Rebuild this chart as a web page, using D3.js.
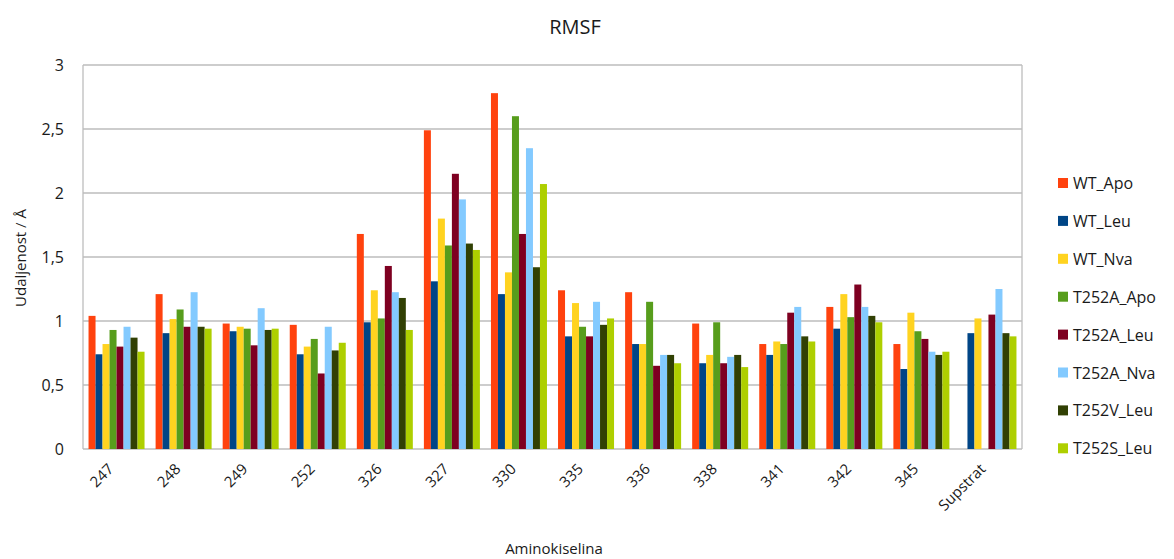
<!DOCTYPE html>
<html>
<head>
<meta charset="utf-8">
<script src="https://cdn.jsdelivr.net/npm/d3@7"></script>
<style>
  body { margin: 0; background: #fff; }
  svg text { font-family: "Open Sans", "DejaVu Sans", sans-serif; fill: #1a1a1a; }
</style>
</head>
<body>
<svg id="chart" width="1174" height="559"></svg>
<script>
// residues on the x axis
var categories = ["247", "248", "249", "252", "326", "327", "330", "335", "336", "338", "341", "342", "345", "Supstrat"];
var seriesNames = ["WT_Apo", "WT_Leu", "WT_Nva", "T252A_Apo", "T252A_Leu", "T252A_Nva", "T252V_Leu", "T252S_Leu"];
var seriesColors = ["#ff420e", "#004586", "#ffd320", "#579d1c", "#7e0021", "#83caff", "#314004", "#aecf00"];

// RMSF values (Å), one array per series
var WT_Apo    = [1.04, 1.21, 0.98, 0.97, 1.68, 2.49, 2.78, 1.24, 1.225, 0.98, 0.82, 1.11, 0.82, null];
var WT_Leu    = [0.74, 0.905, 0.92, 0.74, 0.99, 1.31, 1.21, 0.88, 0.82, 0.67, 0.735, 0.94, 0.625, 0.905];
var WT_Nva    = [0.82, 1.015, 0.955, 0.80, 1.24, 1.80, 1.38, 1.14, 0.82, 0.735, 0.84, 1.21, 1.065, 1.02];
var T252A_Apo = [0.93, 1.09, 0.94, 0.86, 1.02, 1.59, 2.60, 0.955, 1.15, 0.99, 0.82, 1.03, 0.92, null];
var T252A_Leu = [0.80, 0.955, 0.81, 0.59, 1.43, 2.15, 1.68, 0.88, 0.65, 0.67, 1.065, 1.285, 0.86, 1.05];
var T252A_Nva = [0.955, 1.225, 1.10, 0.955, 1.225, 1.95, 2.35, 1.15, 0.735, 0.72, 1.11, 1.11, 0.76, 1.25];
var T252V_Leu = [0.87, 0.955, 0.93, 0.77, 1.18, 1.605, 1.42, 0.97, 0.735, 0.735, 0.88, 1.04, 0.735, 0.905];
var T252S_Leu = [0.76, 0.94, 0.94, 0.83, 0.93, 1.555, 2.07, 1.02, 0.67, 0.64, 0.84, 0.99, 0.76, 0.88];

var yTicks = [0, 0.5, 1, 1.5, 2, 2.5, 3];

var allSeries = [WT_Apo, WT_Leu, WT_Nva, T252A_Apo, T252A_Leu, T252A_Nva, T252V_Leu, T252S_Leu];

var svg = d3.select("#chart");
var plotLeft = 83, plotRight = 1022, plotTop = 65, plotBottom = 449;

var x0 = d3.scaleBand().domain(categories).range([plotLeft, plotRight])
  .paddingInner(0.165).paddingOuter(0.0825);
var x1 = d3.scaleBand().domain(seriesNames).range([0, x0.bandwidth()]);
var y = d3.scaleLinear().domain([0, 3]).range([plotBottom, plotTop]);

var fmt = function(d) { return String(d).replace(".", ","); };

// grid
svg.append("g").selectAll("line")
  .data(yTicks)
  .enter().append("line")
  .attr("x1", plotLeft).attr("x2", plotRight)
  .attr("y1", function(d) { return y(d); })
  .attr("y2", function(d) { return y(d); })
  .attr("stroke", "#bdbdbd")
  .attr("stroke-width", 1.3);

svg.append("line")
  .attr("x1", plotLeft).attr("x2", plotLeft).attr("y1", plotTop).attr("y2", plotBottom)
  .attr("stroke", "#bdbdbd").attr("stroke-width", 1.3);
svg.append("line")
  .attr("x1", plotRight).attr("x2", plotRight).attr("y1", plotTop).attr("y2", plotBottom)
  .attr("stroke", "#bdbdbd").attr("stroke-width", 1.3);

// bars
var groups = svg.append("g").selectAll("g")
  .data(categories)
  .enter().append("g")
  .attr("transform", function(c) { return "translate(" + x0(c) + ",0)"; });

groups.selectAll("rect")
  .data(function(c, i) {
    return seriesNames.map(function(s, j) {
      return { name: s, value: allSeries[j][i], color: seriesColors[j] };
    }).filter(function(d) { return d.value != null; });
  })
  .enter().append("rect")
  .attr("x", function(d) { return x1(d.name); })
  .attr("width", x1.bandwidth())
  .attr("y", function(d) { return y(d.value); })
  .attr("height", function(d) { return y(0) - y(d.value); })
  .attr("fill", function(d) { return d.color; });

// y tick labels
svg.append("g").selectAll("text")
  .data(yTicks)
  .enter().append("text")
  .attr("x", 64)
  .attr("y", function(d) { return y(d) + 6; })
  .attr("text-anchor", "end")
  .style("font-size", "16px")
  .text(fmt);

// x tick labels
svg.append("g").selectAll("text")
  .data(categories)
  .enter().append("text")
  .attr("text-anchor", "end")
  .attr("transform", function(c) {
    var cx = x0(c) + x0.bandwidth() / 2 - 2;
    return "translate(" + cx + ",470) rotate(-45)";
  })
  .style("font-size", "15px")
  .text(function(c) { return c; });

// titles
svg.append("text")
  .attr("x", 575).attr("y", 34)
  .attr("text-anchor", "middle")
  .style("font-size", "20px")
  .text("RMSF");

svg.append("text")
  .attr("x", 554).attr("y", 554)
  .attr("text-anchor", "middle")
  .style("font-size", "15px")
  .text("Aminokiselina");

svg.append("text")
  .attr("transform", "translate(26,258) rotate(-90)")
  .attr("text-anchor", "middle")
  .style("font-size", "15px")
  .text("Udaljenost / Å");

// legend
var legend = svg.append("g").selectAll("g")
  .data(seriesNames)
  .enter().append("g")
  .attr("transform", function(d, i) { return "translate(1058," + (183 + i * 37.9) + ")"; });

legend.append("rect")
  .attr("x", 0).attr("y", -5)
  .attr("width", 10).attr("height", 10)
  .attr("fill", function(d, i) { return seriesColors[i]; });

legend.append("text")
  .attr("x", 15).attr("y", 6)
  .style("font-size", "16px")
  .text(function(d) { return d; });
</script>
</body>
</html>
